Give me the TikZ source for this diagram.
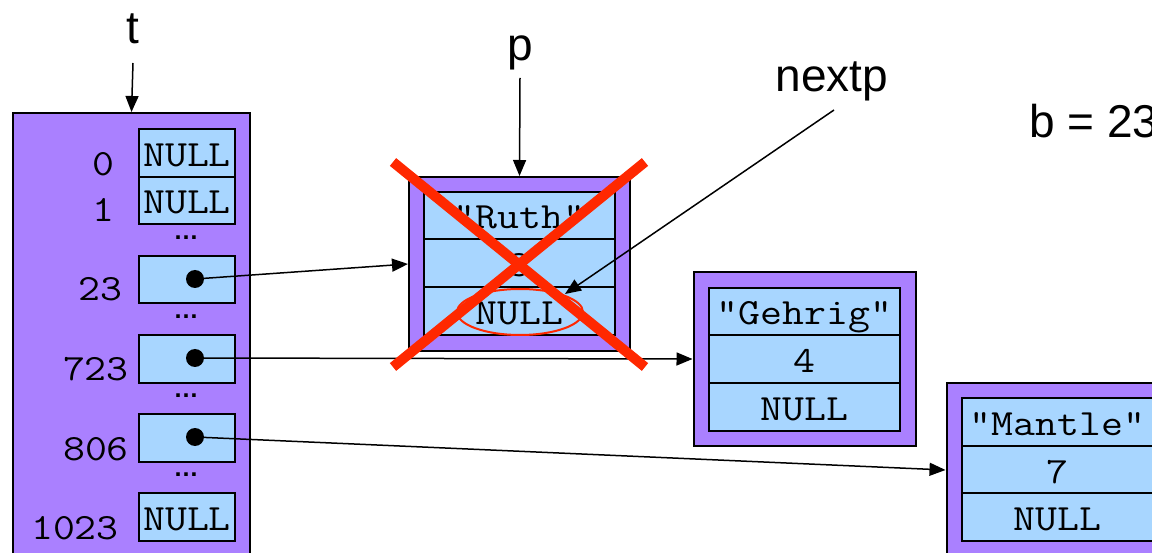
\documentclass[tikz,border=0pt]{standalone}
\usepackage{fontspec}
\setmainfont{Liberation Sans}
\newfontfamily\monofont[FakeStretch=1.15]{Latin Modern Mono}
\usetikzlibrary{arrows.meta}
\definecolor{boxpurple}{RGB}{170,128,255}
\definecolor{cellblue}{RGB}{168,214,255}
\definecolor{crossred}{RGB}{255,40,0}
\tikzset{
  outerbox/.style={draw=black, line width=2pt, fill=boxpurple, inner sep=0pt},
  cellbox/.style={draw=black, line width=2.2pt, fill=cellblue, inner sep=0pt,
    minimum width=96pt, minimum height=47.5pt, font=\monofont\fontsize{37}{40}\selectfont,
    text depth=0pt, text height=27pt},
  rowbox/.style={draw=black, line width=2.2pt, fill=cellblue, inner sep=0pt,
    minimum width=191pt, minimum height=47.7pt, font=\monofont\fontsize{37}{40}\selectfont,
    text depth=0pt, text height=27pt},
  idxlabel/.style={anchor=base east, inner sep=0pt, font=\monofont\fontsize{37}{40}\selectfont},
  dotsym/.style={anchor=base, inner sep=0pt, text height=4pt, text depth=0pt,
    font=\bfseries\fontsize{25}{27}\selectfont},
  ptrdot/.style={circle, fill=black, minimum size=18pt, inner sep=0pt},
  varlabel/.style={anchor=base, inner sep=0pt, font=\fontsize{46}{50}\selectfont},
  ptr/.style={line width=1.5pt, -{Triangle[length=16pt, width=13pt]}},
  crossline/.style={crossred, line width=10pt},
}
\begin{document}
\begin{tikzpicture}[x=1pt, y=-1pt]
\clip (0,0) rectangle (1152,553);
\fill[white] (0,0) rectangle (1152,553);

% hash table
\node[outerbox, minimum width=237pt, minimum height=460pt] (table) at (131.5,343) {};
\node[cellbox] (c0) at (187,153) {NULL};
\node[cellbox] (c1) at (187,200.5) {NULL};
\node[cellbox] (c23) at (187,279.5) {};
\node[cellbox] (c723) at (187,359) {};
\node[cellbox] (c806) at (187,438) {};
\node[cellbox] (c1023) at (187,517) {NULL};
\node[idxlabel] (l0) at (115,176) {0};
\node[idxlabel] (l1) at (115,222) {1};
\node[idxlabel] (l23) at (123,301) {23};
\node[idxlabel] (l723) at (129,381) {723};
\node[idxlabel] (l806) at (129,460) {806};
\node[idxlabel] (l1023) at (119,539) {1023};
\node[dotsym] (e1) at (186,240) {…};
\node[dotsym] (e2) at (186,319) {…};
\node[dotsym] (e3) at (186,398) {…};
\node[dotsym] (e4) at (186,476) {…};

% Ruth node
\node[outerbox, minimum width=221pt, minimum height=174pt] (ruth) at (519.5,264) {};
\node[rowbox] (r1) at (519.5,215.5) {"Ruth"};
\node[rowbox] (r2) at (519.5,263) {3};
\node[rowbox] (r3) at (519.5,311) {NULL};

% Gehrig node
\node[outerbox, minimum width=222pt, minimum height=174pt] (gehrig) at (804.5,359) {};
\node[rowbox] (g1) at (804.5,311.5) {"Gehrig"};
\node[rowbox] (g2) at (804.5,359) {4};
\node[rowbox] (g3) at (804.5,407) {NULL};

% Mantle node
\node[outerbox, minimum width=222pt, minimum height=174pt] (mantle) at (1057.5,470) {};
\node[rowbox] (m1) at (1057.5,422) {"Mantle"};
\node[rowbox] (m2) at (1057.5,469.5) {7};
\node[rowbox] (m3) at (1057.5,517) {NULL};

% pointer dots
\node[ptrdot] (d23) at (195,279) {};
\node[ptrdot] (d723) at (195,358) {};
\node[ptrdot] (d806) at (195,437) {};

% pointers from table
\draw[ptr] (d23.center) -- (ruth.west);
\draw[ptr] (d723.center) -- (gehrig.west);
\draw[ptr] (d806.center) -- (mantle.west);

% variables
\node[varlabel] (tlab) at (133,44) {t};
\coordinate (tstart) at (133,63);
\draw[ptr] (tstart) -- (table.north);
\node[varlabel] (plab) at (520,61) {p};
\coordinate (pstart) at (520,78);
\draw[ptr] (pstart) -- (ruth.north);
\node[varlabel] (nlab) at (832,92) {nextp};
\coordinate (nstart) at (834,110);
\coordinate (nend) at (565,294);
\draw[ptr] (nstart) -- (nend);
\node[varlabel, anchor=base west] (blab) at (1029,138) {b = 23};

% deleted marker
\draw[crossred, line width=2pt] (520,312) ellipse [x radius=63pt, y radius=23pt];
\draw[crossline] (393,162) -- (645,367);
\draw[crossline] (645,162) -- (393,367);
\end{tikzpicture}
\end{document}
